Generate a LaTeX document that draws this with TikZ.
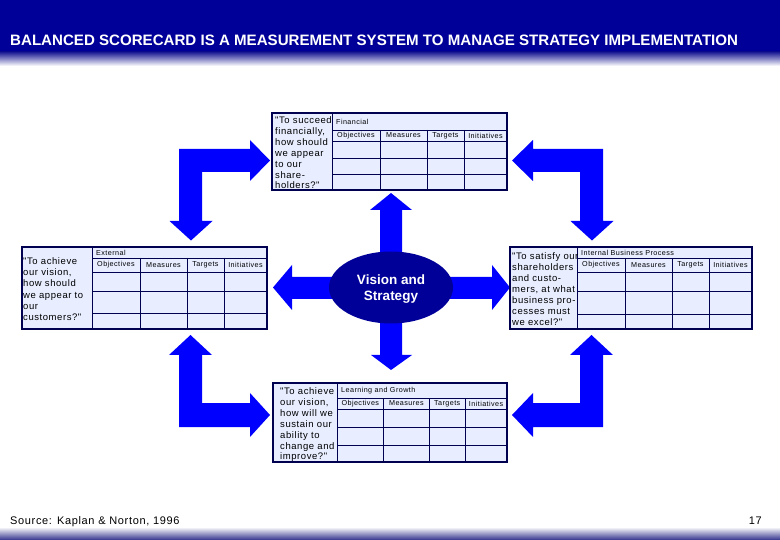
\documentclass[tikz,border=0pt]{standalone}
\usepackage{fontspec}
\setmainfont{Liberation Sans}
\newfontfamily\qfont[LetterSpace=6]{Liberation Sans}
\definecolor{hdrblue}{RGB}{0,0,153}
\definecolor{arrblue}{RGB}{0,0,255}
\definecolor{ellblue}{RGB}{0,0,153}
\definecolor{tabline}{RGB}{0,0,80}
\definecolor{tabfill}{RGB}{232,238,255}
\definecolor{footblue}{RGB}{50,50,140}
\tikzset{
  arrsh/.style={fill=arrblue},
  outl/.style={draw=tabline, line width=1.8pt},
  thinl/.style={draw=tabline, line width=0.8pt},
  tabbg/.style={fill=tabfill},
  hdr/.style={font=\qfont\fontsize{7.2}{8}\selectfont, inner sep=0},
  qtext/.style={font=\qfont\fontsize{9.5}{10.9}\selectfont, align=left, anchor=north west, inner sep=0},
}
\newcommand\bscgrid[9]{%
  \pgfmathsetmacro\bca{#2+0.274*(#3-#2)}%
  \pgfmathsetmacro\bcb{#2+0.543*(#3-#2)}%
  \pgfmathsetmacro\bcc{#2+0.754*(#3-#2)}%
  \pgfmathsetmacro\bhy{(#5+#6)/2}%
  \pgfmathsetmacro\bly{(#4+#5)/2}%
  \fill[tabbg] (#1,#4) rectangle (#3,#9);
  \draw[thinl] (#2,#4) -- (#2,#9) (#2,#5) -- (#3,#5) (#2,#6) -- (#3,#6)
    (#2,#7) -- (#3,#7) (#2,#8) -- (#3,#8)
    (\bca,#5) -- (\bca,#9) (\bcb,#5) -- (\bcb,#9) (\bcc,#5) -- (\bcc,#9);
  \draw[outl] (#1,#4) rectangle (#3,#9);
  \node[hdr, anchor=west] (\tabid-lab) at (#2+4,\bly) {\tablabel};
  \node[hdr] (\tabid-obj) at ({(#2+\bca)/2},\bhy) {Objectives};
  \node[hdr] (\tabid-mea) at ({(\bca+\bcb)/2},\bhy) {Measures};
  \node[hdr] (\tabid-tar) at ({(\bcb+\bcc)/2},\bhy) {Targets};
  \node[hdr] (\tabid-ini) at ({(\bcc+#3)/2},\bhy) {Initiatives};
}
\begin{document}
\begin{tikzpicture}[x=1pt,y=-1pt]
\useasboundingbox (0,0) rectangle (780,540);
% header
\fill[hdrblue] (0,0) rectangle (780,52);
\shade[top color=hdrblue!80!gray, bottom color=white] (0,52) rectangle (780,66);
\node[anchor=base west, text=white, inner sep=0, font=\bfseries\fontsize{15.1}{17}\selectfont] (title) at (10,46)
  {BALANCED SCORECARD IS A MEASUREMENT SYSTEM TO MANAGE STRATEGY IMPLEMENTATION};
% footer
\shade[top color=white, bottom color=footblue] (0,527) rectangle (780,540);
\node[anchor=base west, inner sep=0, font=\qfont\fontsize{11}{12}\selectfont] (src) at (10,524) {Source: Kaplan \& Norton, 1996};
\node[anchor=base east, inner sep=0, font=\qfont\fontsize{11}{12}\selectfont] (pg) at (762,524) {17};

% bent arrows
\fill[arrsh] (179,149) -- (250,149) -- (250,140) -- (270,160.5) -- (250,181) -- (250,172)
  -- (202,172) -- (202,221) -- (212.5,221) -- (191,240.5) -- (169.5,221) -- (179,221) -- cycle;
\fill[arrsh] (603,149) -- (533,149) -- (533,140) -- (512,160.5) -- (533,181) -- (533,172)
  -- (580,172) -- (580,221) -- (570.5,221) -- (592,240.5) -- (613.5,221) -- (603,221) -- cycle;
\fill[arrsh] (179,355) -- (169,355) -- (190.5,335) -- (212,355) -- (202,355) -- (202,403)
  -- (250,403) -- (250,393) -- (270,415) -- (250,437) -- (250,427) -- (179,427) -- cycle;
\fill[arrsh] (603,355) -- (613,355) -- (591.5,335) -- (570,355) -- (580,355) -- (580,403)
  -- (533,403) -- (533,393) -- (512,415) -- (533,437) -- (533,427) -- (603,427) -- cycle;

% center arrows
\fill[arrsh] (380,260) -- (380,210) -- (370,210) -- (391,193) -- (412,210) -- (402,210) -- (402,260) -- cycle;
\fill[arrsh] (380,315) -- (380,355) -- (371,355) -- (391,370) -- (412,355) -- (402,355) -- (402,315) -- cycle;
\fill[arrsh] (430,277) -- (492,277) -- (492,265) -- (510,287.5) -- (492,310) -- (492,299) -- (430,299) -- cycle;
\fill[arrsh] (350,277) -- (292,277) -- (292,265) -- (273,287.5) -- (292,310) -- (292,299) -- (350,299) -- cycle;
\fill[ellblue] (391,287.5) ellipse [x radius=62, y radius=36];
\node[text=white, align=center, inner sep=0, font=\bfseries\fontsize{13.5}{16}\selectfont] (vis) at (391,289) {Vision and\\Strategy};

% tables
\def\tabid{fin}\def\tablabel{Financial}
\bscgrid{272}{332}{507}{113}{130}{141}{158}{174}{190}
\def\tabid{ext}\def\tablabel{External}
\bscgrid{22}{92}{267}{247}{258}{272}{291}{313}{329}
\def\tabid{int}\def\tablabel{Internal Business Process}
\bscgrid{510}{577}{752}{247}{258}{272}{291}{314}{329}
\def\tabid{lrn}\def\tablabel{Learning and Growth}
\bscgrid{273}{337}{507}{383}{398}{409}{427}{445}{462}

\node[qtext] (qfin) at (275,116.5) {"To succeed\\financially,\\how should\\we appear\\to our\\share-\\holders?"};
\node[qtext, font=\qfont\fontsize{9.5}{11.2}\selectfont] (qext) at (23,257.5) {"To achieve\\our vision,\\how should\\we appear to\\our\\customers?"};
\node[qtext, font=\qfont\fontsize{9.5}{11}\selectfont] (qint) at (512,252.5) {"To satisfy our\\shareholders\\and custo-\\mers, at what\\business pro-\\cesses must\\we excel?"};
\node[qtext] (qlrn) at (280,387.5) {"To achieve\\our vision,\\how will we\\sustain our\\ability to\\change and\\improve?"};
\end{tikzpicture}
\end{document}
